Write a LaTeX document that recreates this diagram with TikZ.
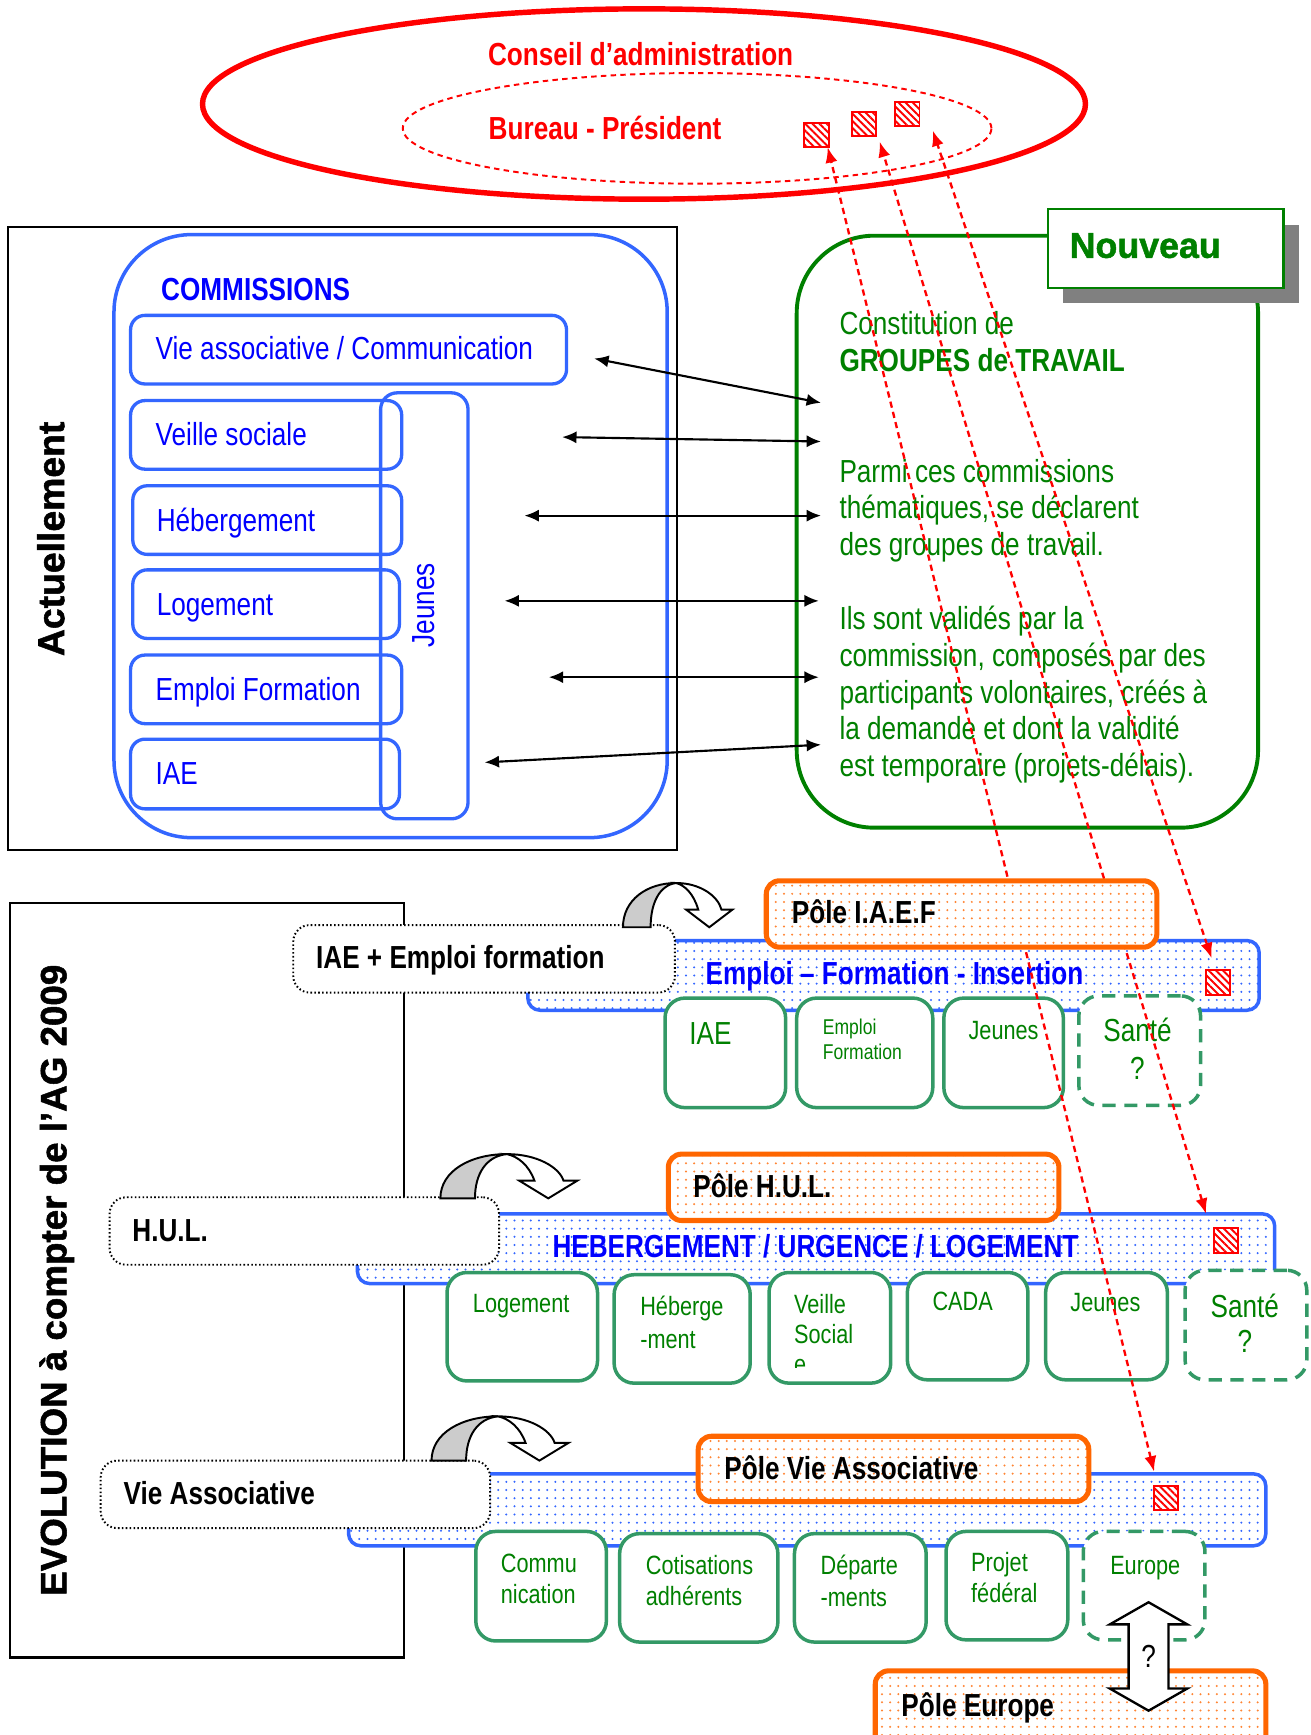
\documentclass[tikz,border=0pt]{standalone}
\usepackage{fontspec}
\setmainfont{Liberation Sans}
\newfontfamily\narrowfont{Liberation Sans}[FakeStretch=0.82]
\newfontfamily\heavyfont{Liberation Sans}[BoldFeatures={FakeBold=1.4}]
\usetikzlibrary{
  arrows.meta,
  patterns.meta,
  shapes.geometric
}
\definecolor{cred}{RGB}{255,0,0}
\definecolor{lineblue}{RGB}{51,102,255}
\definecolor{textblue}{RGB}{0,0,255}
\definecolor{darkgreen}{RGB}{0,128,0}
\definecolor{boxgreen}{RGB}{51,153,102}
\definecolor{poleorange}{RGB}{255,102,0}
\definecolor{shadowgray}{RGB}{128,128,128}
\definecolor{ribbongray}{RGB}{204,204,204}
\newcommand{\fsz}[2]{\fontsize{#1}{#2}\selectfont}

\tikzset{
  plainbox/.style={rectangle, inner sep=0pt, outer sep=0pt},
  commbox/.style={plainbox, draw=lineblue, line width=0.85pt, rounded corners=1.3mm, minimum height=6.2mm},
  commtext/.style={anchor=base west, inner sep=0pt, font=\narrowfont\fsz{8.2}{9.5}, text=textblue},
  band/.style={plainbox, draw=lineblue, line width=0.9pt, rounded corners=1.1mm, minimum height=6.3mm,
    preaction={fill=white}, pattern={Dots[distance=2.1pt, radius=0.28pt]}, pattern color=lineblue},
  polebox/.style={plainbox, draw=poleorange, line width=1.3pt, rounded corners=1.2mm, minimum width=35.3mm, minimum height=6mm,
    preaction={fill=white}, pattern={Dots[distance=2.1pt, radius=0.28pt]}, pattern color=poleorange!80},
  poletext/.style={anchor=base west, inner sep=0pt, font=\narrowfont\bfseries\fsz{8.2}{9.5}},
  bandtext/.style={poletext, text=textblue},
  gbox/.style={plainbox, draw=boxgreen, line width=0.9pt, rounded corners=1.8mm, fill=white, minimum height=9.9mm},
  gdash/.style={gbox, dash pattern=on 3.4pt off 2.2pt},
  gtext/.style={inner sep=0pt, font=\narrowfont\fsz{6.8}{8}, text=darkgreen},
  lblbox/.style={plainbox, draw=black, line width=0.5pt, dash pattern=on 0.4pt off 0.6pt, rounded corners=1.5mm, fill=white, minimum width=35.2mm, minimum height=6.1mm},
  hsq/.style={plainbox, draw=cred, line width=0.5pt, minimum size=2.2mm,
    preaction={fill=white}, pattern={Lines[angle=-45, distance=1.3pt, line width=0.5pt]}, pattern color=cred},
  redlink/.style={draw=cred, line width=0.6pt, dash pattern=on 1.6pt off 1.1pt, {Latex[length=1.4mm, width=1.1mm]}-{Latex[length=1.4mm, width=1.1mm]}},
  link/.style={line width=0.55pt, {Latex[length=1.3mm, width=1.1mm]}-{Latex[length=1.3mm, width=1.1mm]}},
  vlabel/.style={rotate=90, anchor=base, inner sep=0pt, font=\heavyfont\bfseries\fsz{9.6}{11}},
  pics/turnarrow/.style={code={
    \draw[line width=0.5pt, fill=ribbongray] (0,0) .. controls (0,-25) and (22,-40) .. (48,-40) .. controls (33,-38) and (25,-22) .. (25,0) -- cycle;
    \draw[line width=0.5pt, fill=white] (48,-40) .. controls (70,-40) and (86,-28) .. (89,-16) -- (99,-16) -- (78,0) -- (57,-16) -- (68,-16) .. controls (64,-30) and (56,-38) .. (48,-40) -- cycle;
  }}
}

\begin{document}
\begin{tikzpicture}[x=0.1mm, y=-0.1mm]
            \useasboundingbox (0,0) rectangle (1184,1568);
            \fill[white] (0,0) rectangle (1184,1568);
            \clip (0,0) rectangle (1184,1568);

            % Conseil / Bureau
            \node[ellipse, draw=cred, line width=1.4pt, minimum width=79.8mm, minimum height=17.2mm, inner sep=0pt] (conseil) at (582,94) {};
            \node[ellipse, draw=cred, line width=0.5pt, dash pattern=on 1.4pt off 1.1pt, minimum width=53.2mm, minimum height=10mm, inner sep=0pt] (bureau) at (630,116) {};
            \node[poletext, anchor=base, text=cred] (conseilT) at (579,59) {Conseil d’administration};
            \node[poletext, text=cred] (bureauT) at (441,126) {Bureau - Président};
            \node[hsq] (sqA) at (738,122) {};
            \node[hsq] (sqB) at (781,112) {};
            \node[hsq] (sqC) at (820,103) {};

            % Actuellement
            \node[plainbox, draw=black, line width=0.6pt, minimum width=60.5mm, minimum height=56.3mm] (actu) at (309.5,486.5) {};
            \node[vlabel] (actuT) at (58,487) {Actuellement};
            \node[plainbox, draw=lineblue, line width=0.9pt, rounded corners=7mm, minimum width=50mm, minimum height=54.5mm] (comm) at (353,484.5) {};
            \node[poletext, text=textblue] (commT) at (145,272) {COMMISSIONS};
            \node[commbox, minimum width=39.4mm] (cVie) at (315,316) {};
            \node[commbox, minimum width=24.5mm] (cVeille) at (240.5,393) {};
            \node[commbox, minimum width=24.3mm] (cHeb) at (241.5,470) {};
            \node[commbox, minimum width=24.1mm] (cLog) at (240.5,546) {};
            \node[commbox, minimum width=24.5mm] (cEmp) at (240.5,623) {};
            \node[commbox, minimum width=24.3mm, minimum height=6.3mm] (cIAE) at (239.5,699.5) {};
            \node[commbox, rounded corners=1.5mm, minimum width=7.9mm, minimum height=38.5mm] (cJeunes) at (383.5,547.5) {};
            \node[commtext] (cVieT) at (140,325) {Vie associative / Communication};
            \node[commtext] (cVeilleT) at (140,403) {Veille sociale};
            \node[commtext] (cHebT) at (141,480) {Hébergement};
            \node[commtext] (cLogT) at (141,556) {Logement};
            \node[commtext] (cEmpT) at (140,633) {Emploi Formation};
            \node[commtext] (cIAET) at (140,709) {IAE};
            \node[commtext, rotate=90, anchor=base] (cJeunesT) at (393,547) {Jeunes};

            % Nouveau
            \node[plainbox, draw=darkgreen, line width=1pt, rounded corners=7mm, minimum width=41.7mm, minimum height=53.5mm] (groupes) at (928.5,480.5) {};
            \node[plainbox, fill=shadowgray, minimum width=21.3mm, minimum height=7.1mm] (nouveauS) at (1067.5,238.5) {};
            \node[plainbox, draw=darkgreen, line width=0.6pt, fill=white, minimum width=21.3mm, minimum height=7.1mm] (nouveau) at (1053.5,224.5) {};
            \node[anchor=base, inner sep=0pt, font=\heavyfont\bfseries\fsz{9.2}{11}, text=darkgreen] (nouveauT) at (1035,233) {Nouveau};
            \node[anchor=north west, inner sep=0pt, align=left, font=\narrowfont\fsz{8.2}{9.47}, text=darkgreen] (groupesT) at (758,281)
              {Constitution de\\\textbf{GROUPES de TRAVAIL}\\[18.94pt]Parmi ces commissions\\thématiques, se déclarent\\des groupes de travail.\\[9.47pt]Ils sont validés par la\\commission, composés par des\\participants volontaires, créés à\\la demande et dont la validité\\est temporaire (projets-délais).};

            % Evolution
            \node[plainbox, draw=black, line width=0.6pt, minimum width=35.6mm, minimum height=68.2mm] (evol) at (187,1157) {};
            \node[vlabel, font=\heavyfont\bfseries\fsz{9.45}{11}] (evolT) at (60,1157) {EVOLUTION à compter de l’AG 2009};

            % Emploi - Formation - Insertion
            \node[band, minimum width=66.1mm] (bandIAEF) at (807.5,881.5) {};
            \node[bandtext] (bandIAEFT) at (637,890) {Emploi – Formation - Insertion};
            \node[hsq] (sqIAEF) at (1101,888) {};
            \node[gbox, minimum width=10.9mm] (gIAE) at (655.5,951.5) {};
            \node[gbox, minimum width=12.3mm] (gEF) at (781.5,951.5) {};
            \node[gbox, minimum width=10.8mm] (gJeunes) at (907,951.5) {};
            \node[gdash, minimum width=11mm] (gSante) at (1030,949.5) {};
            \node[gtext, anchor=base, font=\narrowfont\fsz{8.2}{9.5}] (gIAET) at (642,944) {IAE};
            \node[gtext, anchor=north west, align=left, font=\narrowfont\fsz{5.5}{6.6}] (gEFT) at (743,920) {Emploi\\Formation};
            \node[gtext, anchor=base] (gJeunesT) at (907,939.6) {Jeunes};
            \node[gtext, anchor=north, align=center, font=\narrowfont\fsz{8.2}{9.7}] (gSanteT) at (1028,919.3) {Santé\\?};
            \node[lblbox, minimum width=34.5mm] (lblIAEF) at (437.5,866.5) {};
            \node[poletext] (lblIAEFT) at (285,875) {IAE + Emploi formation};

            % Hebergement / Urgence / Logement
            \node[band, minimum width=82.9mm] (bandHUL) at (737.5,1128.5) {};
            \node[bandtext, anchor=base] (bandHULT) at (737,1136) {HEBERGEMENT / URGENCE / LOGEMENT};
            \node[hsq] (sqHUL) at (1108,1121) {};
            \node[gbox, minimum width=13.6mm, minimum height=9.8mm] (hLog) at (472,1199) {};
            \node[gbox, minimum width=12.3mm, minimum height=9.8mm] (hHeb) at (616.5,1201) {};
            \node[gbox, minimum width=11mm, minimum height=10mm] (hVeille) at (750,1200) {};
            \node[gbox, minimum width=10.9mm, minimum height=9.7mm] (hCada) at (874.5,1198.5) {};
            \node[gbox, minimum width=11mm, minimum height=9.7mm] (hJeunes) at (1000,1198.5) {};
            \node[gdash, minimum width=11mm] (hSante) at (1126,1197.5) {};
            \node[gtext, anchor=base] (hLogT) at (471,1186.6) {Logement};
            \node[gtext, anchor=north west, align=left, font=\narrowfont\fsz{6.8}{8.25}] (hHebT) at (578,1171) {Héberge\\-ment};
            \begin{scope}
              \clip (695,1150) rectangle (805,1236);
              \node[gtext, anchor=north west, align=left, font=\narrowfont\fsz{6.8}{7.7}] (hVeilleT) at (717,1169) {Veille\\Social\\e};
            \end{scope}
            \node[gtext, anchor=base] (hCadaT) at (870,1184.6) {CADA};
            \node[gtext, anchor=base] (hJeunesT) at (999,1185.6) {Jeunes};
            \node[gtext, anchor=north, align=center, font=\narrowfont\fsz{8.2}{9.1}] (hSanteT) at (1125,1168.3) {Santé\\?};
            \node[lblbox] (lblHUL) at (275,1112.5) {};
            \node[poletext] (lblHULT) at (119,1122) {H.U.L.};

            % Vie Associative
            \node[band, minimum width=82.9mm, minimum height=6.5mm] (bandVA) at (729.5,1364.5) {};
            \node[hsq] (sqVA) at (1054,1354) {};
            \node[gbox, minimum width=11.8mm] (vCom) at (489,1433.5) {};
            \node[gbox, minimum width=14.3mm, minimum height=9.8mm] (vCot) at (631.5,1435) {};
            \node[gbox, minimum width=11.9mm, minimum height=9.8mm] (vDep) at (777.5,1435) {};
            \node[gbox, minimum width=11mm, minimum height=9.8mm] (vPro) at (910,1433) {};
            \node[gdash, minimum width=11mm, minimum height=9.8mm] (vEur) at (1034,1433) {};
            \node[gtext, anchor=north west, align=left] (vComT) at (452,1404) {Commu\\nication};
            \node[gtext, anchor=north west, align=left] (vCotT) at (583,1405) {Cotisations\\adhérents};
            \node[gtext, anchor=north west, align=left] (vDepT) at (741,1405) {Départe\\-ments};
            \node[gtext, anchor=north west, align=left] (vProT) at (877,1402) {Projet\\fédéral};
            \node[gtext, anchor=base] (vEurT) at (1035,1422.6) {Europe};
            \node[lblbox] (lblVA) at (267,1350.5) {};
            \node[poletext] (lblVAT) at (111,1360) {Vie Associative};

            % turning arrows
            \pic at (563,838) {turnarrow};
            \pic[xscale=1.25] at (398,1083) {turnarrow};
            \pic[xscale=1.25] at (390,1320) {turnarrow};

            % red links to the bureau
            \coordinate (rA1) at (748,133);
            \coordinate (rA2) at (1043,1330);
            \coordinate (rB1) at (795,128);
            \coordinate (rB2) at (1090,1097);
            \coordinate (rC1) at (843,118);
            \coordinate (rC2) at (1095,866);
            \draw[redlink] (rA2) -- (rA1);
            \draw[redlink] (rB2) -- (rB1);
            \draw[redlink] (rC2) -- (rC1);

            % Poles
            \node[polebox] (poleIAEF) at (869,826) {};
            \node[poletext] (poleIAEFT) at (715,835) {Pôle I.A.E.F};
            \node[polebox] (poleHUL) at (780.5,1073) {};
            \node[poletext] (poleHULT) at (626,1082) {Pôle H.U.L.};
            \node[polebox, minimum height=5.9mm] (poleVA) at (807.5,1327.5) {};
            \node[poletext] (poleVAT) at (654,1337) {Pôle Vie Associative};
            \node[polebox, minimum height=8mm] (poleEur) at (967.5,1550) {};
            \node[poletext] (poleEurT) at (814,1551) {Pôle Europe};
            \draw[line width=0.6pt, fill=white] (1038,1448) -- (1073,1468) -- (1056,1468) -- (1056,1526) -- (1073,1526) -- (1038,1546)
              -- (1003,1526) -- (1020,1526) -- (1020,1468) -- (1003,1468) -- cycle;
            \node[gtext, anchor=base, text=black, font=\narrowfont\fsz{8.2}{9.5}] (euQ) at (1038,1507) {?};

            % links commissions - groupes
            \coordinate (lVie) at (537,324);     \coordinate (rVie) at (742,364);
            \coordinate (lVeille) at (508,395);  \coordinate (rVeille) at (742,399);
            \coordinate (lHeb) at (474,466);     \coordinate (rHeb) at (742,466);
            \coordinate (lLog) at (456,543);     \coordinate (rLog) at (740,543);
            \coordinate (lEmp) at (496,612);     \coordinate (rEmp) at (740,612);
            \coordinate (lIAE) at (438,689);     \coordinate (rIAE) at (742,673);
            \draw[link] (lVie) -- (rVie);
            \draw[link] (lVeille) -- (rVeille);
            \draw[link] (lHeb) -- (rHeb);
            \draw[link] (lLog) -- (rLog);
            \draw[link] (lEmp) -- (rEmp);
            \draw[link] (lIAE) -- (rIAE);
\end{tikzpicture}
\end{document}
